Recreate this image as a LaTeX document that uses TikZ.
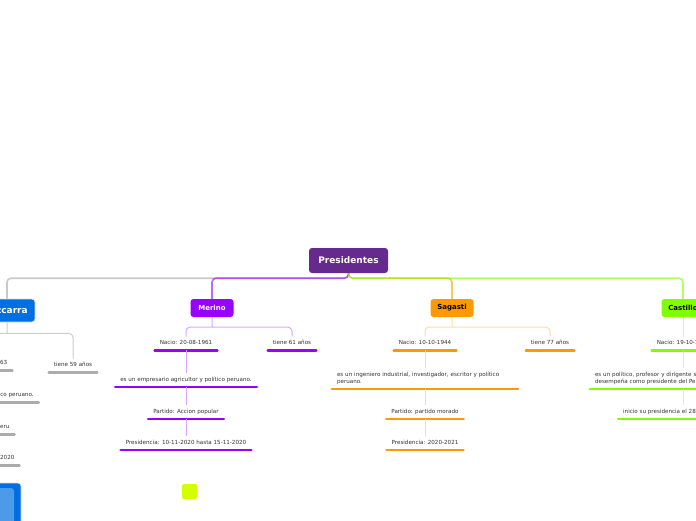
\documentclass[tikz,border=0pt]{standalone}
\usepackage{fontspec}
\setmainfont{DejaVu Sans}
\usetikzlibrary{positioning}
\definecolor{presc}{HTML}{662A8E}
\definecolor{vizc}{HTML}{0070E0}
\definecolor{merc}{HTML}{9900FF}
\definecolor{sagc}{HTML}{FF9900}
\definecolor{casc}{HTML}{80FF00}
\definecolor{grisc}{HTML}{A3A3A3}
\definecolor{textc}{HTML}{333333}
\begin{document}
\begin{tikzpicture}[x=1pt, y=-1pt,
  every node/.style={font=\fontsize{5.6}{6.4}\selectfont, text=textc, inner xsep=5pt, inner ysep=4pt},
  root/.style={fill=presc, rounded corners=3pt, text=white, font=\fontsize{9}{10}\selectfont\bfseries, minimum width=79pt, minimum height=25pt},
  pres/.style={fill=#1, rounded corners=3pt, font=\fontsize{7}{8}\selectfont\bfseries, minimum width=43pt, minimum height=18pt},
  hoja/.style={text height=4.2pt, text depth=1.3pt, append after command={(\tikzlastnode.south west) edge[draw=#1, line width=2.4pt, line cap=round] (\tikzlastnode.south east)}},
  wide/.style={text width=176pt, align=left, text height=, text depth=},
  rama/.style={draw=#1, opacity=.6, line width=1.6pt, rounded corners=4pt},
  liga/.style={draw=#1, line width=1pt, rounded corners=4pt}]
\useasboundingbox (0,0) rectangle (696,520);
\clip (0,0) rectangle (696,520);

\node[root] (root) at (348.5,260.5) {Presidentes};
\node[pres=vizc, text=white, font=\fontsize{9}{10}\selectfont\bfseries, minimum width=56pt, minimum height=23pt, draw=white!75!gray, line width=.8pt] (viz) at (7,310.5) {Vizcarra};
\node[pres=merc, text=white] (mer) at (212,308) {Merino};
\node[pres=sagc, text=black] (sag) at (452,308) {Sagasti};
\node[pres=casc, text=black] (cas) at (683,308) {Castillo};

\draw[rama=grisc] (root.south) -- ++(0,5) -| (viz.north);
\draw[rama=merc] (root.south) -- ++(0,5) -| (mer.north);
\draw[rama=sagc] (root.south) -- ++(0,5) -| (sag.north);
\draw[rama=casc] (root.south) -- ++(0,5) -| (cas.north);

\node[hoja=grisc!90] (vnac) at (-19,363.5) {Nacio: 22-03-1963};
\node[hoja=grisc!90] (vtie) at (73,365.5) {tiene 59 años};
\node[hoja=grisc!90] (vemp) at (-15,395.5) {es un ingeniero y político peruano.};
\node[hoja=grisc!90] (vpar) at (-19,427.5) {Partido: Somos Peru};
\node[hoja=grisc!90] (vpre) at (-19,458.5) {Presidencia: 2018-2020};

\node[hoja=merc] (mnac) at (186,343.5) {Nacio: 20-08-1961};
\node[hoja=merc] (mtie) at (292,343.5) {tiene 61 años};
\node[hoja=merc] (memp) at (186,380.25) {es un empresario agricultor y político peruano.};
\node[hoja=merc] (mpar) at (186,412.25) {Partido: Accion popular};
\node[hoja=merc] (mpre) at (186,443.25) {Presidencia: 10-11-2020 hasta 15-11-2020};

\node[hoja=sagc] (snac) at (425,343.5) {Nacio: 10-10-1944};
\node[hoja=sagc] (stie) at (550,343.5) {tiene 77 años};
\node[hoja=sagc, wide] (semp) at (425,378.5) {es un ingeniero industrial, investigador, escritor y político\\peruano.};
\node[hoja=sagc] (spar) at (425,412.25) {Partido: partido morado};
\node[hoja=sagc] (spre) at (425,443.25) {Presidencia: 2020-2021};

\node[hoja=casc] (cnac) at (683,343.5) {Nacio: 19-10-1969};
\node[hoja=casc, wide] (cemp) at (683,378.5) {es un político, profesor y dirigente sindical peruano que se\\desempeña como presidente del Perú desde 2021.};
\node[hoja=casc] (cini) at (683,412.25) {inicio su presidencia el 28 de julio de 2021};

\draw[liga=gray!40] (viz.south) -- ++(0,11) coordinate (vs) (vs) -| (vnac.north) (vs) -| (vtie.north);
\draw[liga=gray!40] (vnac.south) -- (vemp.north) (vemp.south) -- (vpar.north) (vpar.south) -- (vpre.north);
\draw[liga=merc!35] (mer.south) -- ++(0,10) coordinate (ms) (ms) -| (mnac.north) (ms) -| (mtie.north);
\draw[liga=merc!35] (mnac.south) -- (memp.north) (memp.south) -- (mpar.north) (mpar.south) -- (mpre.north);
\draw[liga=sagc!35] (sag.south) -- ++(0,10) coordinate (ss) (ss) -| (snac.north) (ss) -| (stie.north);
\draw[liga=sagc!35] (snac.south) -- (semp.north) (semp.south) -- (spar.north) (spar.south) -- (spre.north);
\draw[liga=casc!40] (cas.south) -- (cnac.north) (cnac.south) -- (cemp.north) (cemp.south) -- (cini.north);

\draw[fill=vizc, draw=white!75!gray, line width=.8pt, rounded corners=3pt] (-30,483) rectangle (21,540);
\fill[vizc!70!white, rounded corners=3pt] (-30,488) rectangle (14,540);
\fill[fill={rgb,255:red,212;green,255;blue,0}, rounded corners=2pt] (182,484) rectangle (197,499);
\end{tikzpicture}
\end{document}
